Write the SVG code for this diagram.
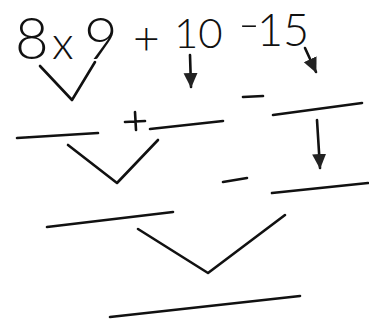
<svg xmlns="http://www.w3.org/2000/svg" width="369" height="324" viewBox="0 0 369 324">
<defs>
<style>
.t{font-family:"Lato","Liberation Sans","DejaVu Sans",sans-serif;font-weight:300;fill:#111;}
.ln{stroke:#111;stroke-width:2.6;fill:none;stroke-linecap:round;stroke-linejoin:round;}
</style>
<marker id="ah" markerUnits="userSpaceOnUse" markerWidth="16" markerHeight="16" refX="14" refY="7" orient="auto">
<path d="M0,0 L15,7 L0,14 Z" fill="#222"/>
</marker>
</defs>
<rect width="369" height="324" fill="#fff"/>
<g id="expression">
<text class="t" x="15" y="59" font-size="58">8</text>
<text class="t" x="52" y="59" font-size="46">x</text>
<text class="t" x="84" y="59" font-size="58">9</text>
<text class="t" x="133" y="54" font-size="46">+</text>
<text class="t" x="174" y="48" font-size="42">10</text>
<text class="t" x="238" y="38" font-size="40" textLength="22" lengthAdjust="spacingAndGlyphs">-</text>
<text class="t" x="257" y="46" font-size="45">15</text>
</g>
<g id="row2">
<path class="ln" d="M17,138 L98,133"/>
<path class="ln" d="M125,122 L145,121 M135,112 L136,130"/>
<path class="ln" d="M150,129 L223,121"/>
<path class="ln" d="M243,97 L263,96"/>
<path class="ln" d="M273,115 L362,103"/>
</g>
<g id="row3">
<path class="ln" d="M47,227 L173,212"/>
<path class="ln" d="M223,182 L247,178"/>
<path class="ln" d="M272,193 L368,183"/>
</g>
<g id="result">
<path class="ln" d="M110,317 L300,296"/>
</g>
<g id="connectors">
<path class="ln" d="M40,66 L72,100 L95,62"/>
<path class="ln" d="M68,145 L117,183 L158,140"/>
<path class="ln" d="M138,229 L208,273 L285,215"/>
<path class="ln" d="M190,55 L191,87" marker-end="url(#ah)"/>
<path class="ln" d="M305,48 L316,72" marker-end="url(#ah)"/>
<path class="ln" d="M317,120 L320,168" marker-end="url(#ah)"/>
</g>
</svg>
